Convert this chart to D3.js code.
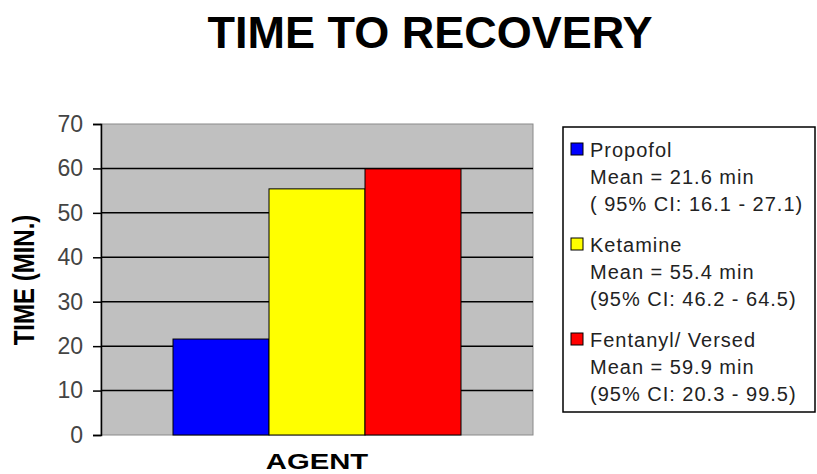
<!DOCTYPE html>
<head>
  <meta charset="utf-8">
  <script src="https://d3js.org/d3.v7.min.js"></script>
  <style>
  *{
    margin:0;
    padding:0;
  }
  body{
    background: #fff;
    font-family: Arial, 'Liberation Sans', sans-serif;
  }
  </style>
</head>
<body>
  <svg id="chart"></svg>
  <script>
    // data
    let agents = ["Propofol", "Ketamine", "Fentanyl/ Versed"];
    let means = [21.6, 55.4, 59.9];
    let ciLabels = ["( 95% CI: 16.1 - 27.1)", "(95% CI: 46.2 - 64.5)", "(95% CI: 20.3 - 99.5)"];
    let colors = ["#0000ff", "#ffff00", "#ff0000"];
    let yTicks = [0, 10, 20, 30, 40, 50, 60, 70];

    let width = 817, height = 474;
    let svg = d3.select("#chart").attr("width", width).attr("height", height);

    //plot area
    let plot = {left: 101, top: 124, width: 432, height: 311};

    let y = d3.scaleLinear().domain([0, 70]).range([plot.height, 0]);
    let x = d3.scaleBand()
      .domain(agents)
      .range([plot.width / 6, plot.width * 5 / 6]);

    let g = svg.append("g").attr("transform", `translate(${plot.left},${plot.top})`);

    //gray background with gray border
    g.append("rect")
      .attr("width", plot.width)
      .attr("height", plot.height)
      .attr("fill", "#c0c0c0")
      .attr("stroke", "#8a8a8a")
      .attr("stroke-width", 1);

    //grid lines
    g.selectAll("line.grid")
      .data(yTicks.filter(t => t > 0 && t < 70))
      .enter()
      .append("line")
      .attr("class", "grid")
      .attr("x1", 0)
      .attr("x2", plot.width)
      .attr("y1", d => y(d))
      .attr("y2", d => y(d))
      .attr("stroke", "#000")
      .attr("stroke-width", 1.5);

    //bars
    g.selectAll("rect.bar")
      .data(agents)
      .enter()
      .append("rect")
      .attr("class", "bar")
      .attr("x", d => x(d))
      .attr("y", (d, i) => y(means[i]))
      .attr("width", x.bandwidth())
      .attr("height", (d, i) => plot.height - y(means[i]))
      .attr("fill", (d, i) => colors[i])
      .attr("stroke", "#000")
      .attr("stroke-width", 1);

    //y axis
    let yAxis = g.append("g")
      .call(d3.axisLeft(y).tickValues(yTicks).tickSize(8).tickPadding(10).tickSizeOuter(8));
    yAxis.select(".domain").attr("stroke", "#000").attr("stroke-width", 1.5);
    yAxis.selectAll(".tick line").attr("stroke", "#000").attr("stroke-width", 1.5);
    yAxis.selectAll("text")
      .attr("font-family", "Arial, 'Liberation Sans', sans-serif")
      .attr("font-size", 23)
      .attr("fill", "#444");

    //title
    svg.append("text")
      .attr("x", 430)
      .attr("y", 48)
      .attr("text-anchor", "middle")
      .attr("font-size", 45)
      .attr("font-weight", "bold")
      .attr("fill", "#000")
      .text("TIME TO RECOVERY");

    //axis titles (the picture is stretched wide, so scale them)
    svg.append("text")
      .attr("transform", `translate(${plot.left + plot.width / 2},469) scale(1.33,1)`)
      .attr("text-anchor", "middle")
      .attr("font-size", 22)
      .attr("font-weight", "bold")
      .text("AGENT");

    svg.append("text")
      .attr("transform", `translate(34,280) rotate(-90) scale(1,1.2)`)
      .attr("text-anchor", "middle")
      .attr("font-size", 24)
      .attr("font-weight", "bold")
      .text("TIME (MIN.)");

    //legend
    let legend = svg.append("g").attr("transform", "translate(563,127)");
    legend.append("rect")
      .attr("width", 252)
      .attr("height", 285)
      .attr("fill", "#fff")
      .attr("stroke", "#000")
      .attr("stroke-width", 1.5);

    let item = legend.selectAll("g.item")
      .data(agents)
      .enter()
      .append("g")
      .attr("class", "item")
      .attr("transform", (d, i) => `translate(0,${i * 95})`);

    item.append("rect")
      .attr("x", 8)
      .attr("y", 16)
      .attr("width", 12)
      .attr("height", 12)
      .attr("fill", (d, i) => colors[i])
      .attr("stroke", "#000")
      .attr("stroke-width", 1);

    let lines = (d, i) => [d, "Mean = " + means[i] + " min", ciLabels[i]];
    item.selectAll("text")
      .data((d, i) => lines(d, i))
      .enter()
      .append("text")
      .attr("x", 27)
      .attr("y", (d, j) => 30 + j * 27)
      .attr("font-size", 20)
      .attr("letter-spacing", 1)
      .attr("fill", "#222")
      .text(d => d);
  </script>
</body>
